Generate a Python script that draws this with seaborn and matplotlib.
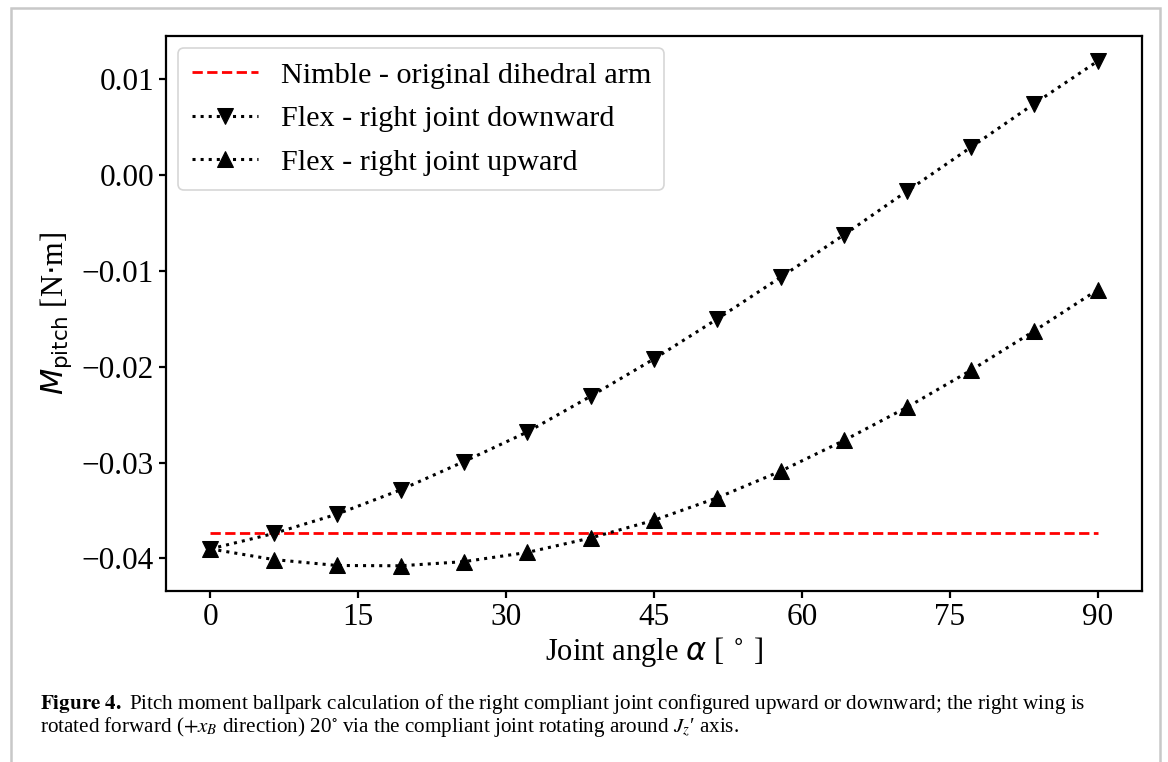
import numpy as np
import pandas as pd
import matplotlib
matplotlib.use("Agg")
import matplotlib.pyplot as plt
import seaborn as sns
from matplotlib.patches import Rectangle

# ---- data ----
angles = [0, 6.43, 12.86, 19.29, 25.71, 32.14, 38.57, 45.0,
          51.43, 57.86, 64.29, 70.71, 77.14, 83.57, 90.0]
flex_down = [-0.0390, -0.03739, -0.03537, -0.03284, -0.02989, -0.02680, -0.02307, -0.01917,
             -0.01499, -0.01064, -0.00620, -0.00162, 0.00292, 0.00747, 0.01191]
flex_up = [-0.0390, -0.04011, -0.04073, -0.04076, -0.04033, -0.03937, -0.03786, -0.03601,
           -0.03366, -0.03088, -0.02767, -0.02419, -0.02036, -0.01625, -0.01196]
nimble_x = [0, 90]
nimble_y = [-0.03730, -0.03730]
x_ticks = [0, 15, 30, 45, 60, 75, 90]
y_ticks = [-0.04, -0.03, -0.02, -0.01, 0.00, 0.01]

label_nimble = "Nimble - original dihedral arm"
label_down = "Flex - right joint downward"
label_up = "Flex - right joint upward"

sns.set_theme(style="ticks")
plt.rcParams["font.family"] = ["Liberation Serif", "DejaVu Serif"]
plt.rcParams["mathtext.fontset"] = "dejavusans"
plt.rcParams["text.color"] = "black"
plt.rcParams["axes.labelcolor"] = "black"
plt.rcParams["axes.linewidth"] = 1.6
plt.rcParams["xtick.major.width"] = 1.6
plt.rcParams["ytick.major.width"] = 1.6
plt.rcParams["xtick.major.size"] = 5
plt.rcParams["ytick.major.size"] = 5
plt.rcParams["axes.edgecolor"] = "black"
plt.rcParams["xtick.color"] = "black"
plt.rcParams["ytick.color"] = "black"
plt.rcParams["axes.unicode_minus"] = True

fig = plt.figure(figsize=(11.68, 7.62), dpi=100)
ax = fig.add_axes([0.1421, 0.2244, 0.9777 - 0.1421, 0.9528 - 0.2244])

sns.lineplot(x=nimble_x, y=nimble_y, ax=ax, color="red", linestyle="--",
             linewidth=2, label=label_nimble)
sns.lineplot(x=angles, y=flex_down, ax=ax, color="black", linestyle=":",
             linewidth=2.2, marker="v", markersize=11.5, markeredgecolor="black",
             label=label_down)
sns.lineplot(x=angles, y=flex_up, ax=ax, color="black", linestyle=":",
             linewidth=2.2, marker="^", markersize=11.5, markeredgecolor="black",
             label=label_up)

ax.set_xticks(x_ticks)
ax.set_yticks(y_ticks)
ax.set_yticklabels([f"{v:.2f}".replace("-", "\u2212") for v in y_ticks])
ax.tick_params(labelsize=22.5, colors="black")
ax.set_xlabel(r"Joint angle $\alpha$ [ $^{\circ}$ ]", fontsize=22, color="black", labelpad=2)
ax.set_ylabel(r"$M_{\mathrm{pitch}}$ [N$\cdot$m]", fontsize=22, color="black", labelpad=6)

leg = ax.legend(loc="upper left", fontsize=21.7, frameon=True, handlelength=2.2,
                borderaxespad=0.4, borderpad=0.45, labelspacing=0.55, handletextpad=0.75)
leg.get_frame().set_edgecolor("#cccccc")
leg.get_frame().set_linewidth(1.2)
for t in leg.get_texts():
    t.set_color("black")

# page frame and caption
fig.patches.append(Rectangle((11 / 1168, -0.1), (1160 - 11) / 1168, 1.1 - 8 / 762,
                             transform=fig.transFigure, fill=False,
                             edgecolor="#c8c8c8", linewidth=1.8))
fig.text(40 / 1168, 1 - 704 / 762,
         r"$\mathbf{Figure\ 4.}$ Pitch moment ballpark calculation of the right compliant joint "
         r"configured upward or downward; the right wing is",
         fontsize=15.2, va="center", ha="left", math_fontfamily="stix", color="black")
fig.text(40 / 1168, 1 - 727 / 762,
         r"rotated forward ($+x_B$ direction) 20$^{\circ}$ via the compliant joint rotating "
         r"around $J_z$" + "\u2032 axis.",
         fontsize=15.2, va="center", ha="left", math_fontfamily="stix", color="black")

fig.savefig("out.png", dpi=100)
